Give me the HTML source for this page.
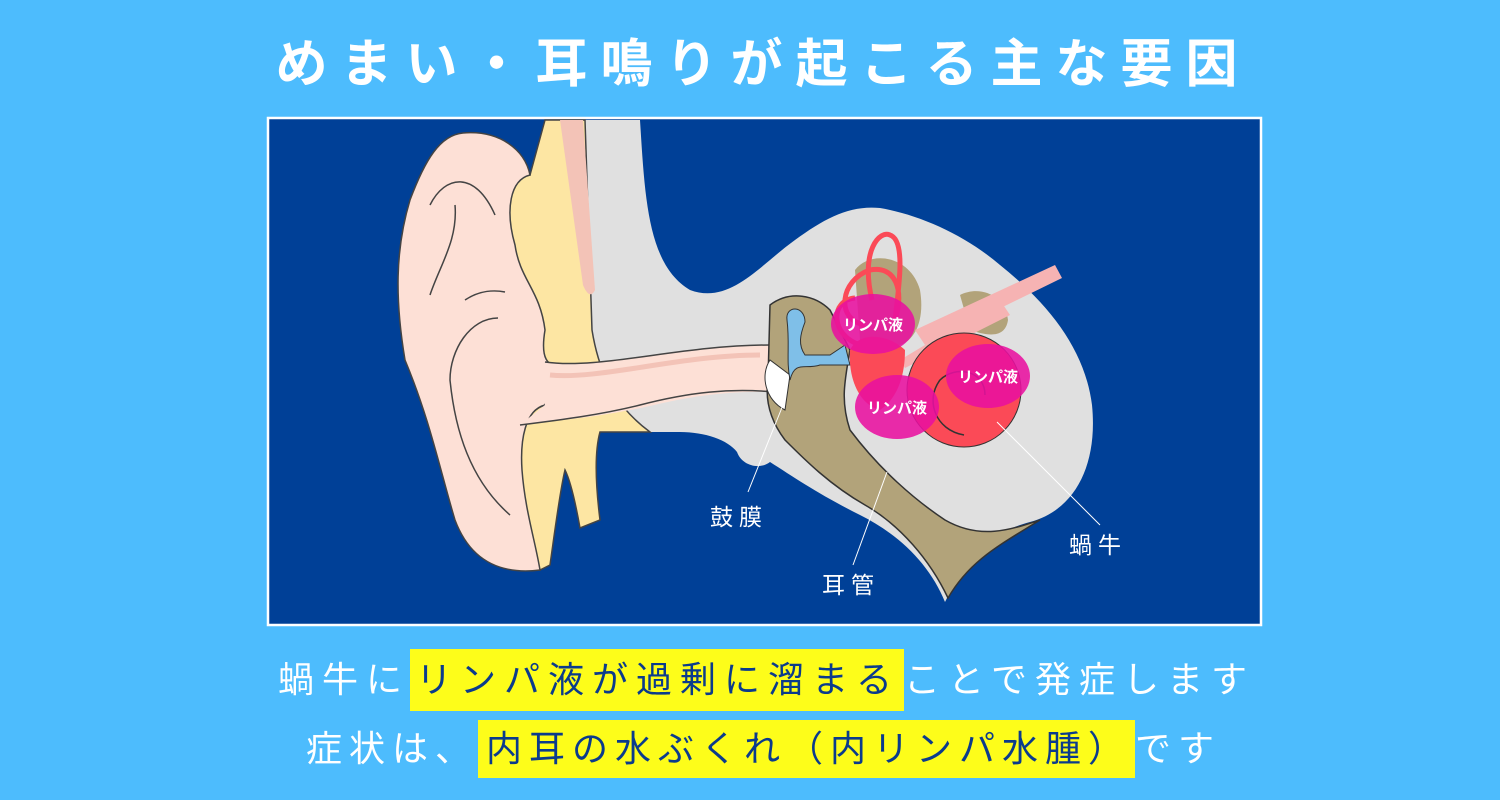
<!DOCTYPE html>
<html><head><meta charset="utf-8"><style>
body{margin:0;width:1500px;height:800px;background:#4dbcfd;overflow:hidden;position:relative;font-family:"Liberation Sans","Noto Sans CJK JP",sans-serif}
.t{position:absolute;left:0;width:1500px;text-align:center;color:#fff;font-weight:bold}
.l{position:absolute;white-space:nowrap;font-size:36px;color:#fff;letter-spacing:8px}
.y{background:#fdfd1a;color:#0b3b8c}
</style></head><body>
<div class="t" style="top:30px;font-size:52px;letter-spacing:13px;line-height:70px;padding-left:13px">めまい・耳鳴りが起こる主な要因</div>
<svg style="position:absolute;left:0;top:0" width="1500" height="800">
<rect x="268" y="118" width="993" height="507" fill="#004097" stroke="#fff" stroke-width="2.5"/>
<path d="M585,120 L640,120 C645,200 648,265 690,290 C730,305 760,265 795,240 C825,218 850,205 880,208 C920,215 965,235 1000,265 C1050,305 1085,350 1092,405 C1098,465 1075,510 1030,522 C1000,530 978,545 962,568 L945,602 C930,565 900,535 860,515 C820,495 795,478 770,462 C760,470 742,466 737,452 C728,440 705,432 680,432 L650,432 C620,410 600,380 592,330 Z" fill="#e0e0e0"/>
<path d="M545,120 L585,120 L592,330 C600,380 620,410 650,432 L600,432 C595,450 595,480 600,520 L580,528 C575,500 570,480 565,470 C560,490 555,530 550,565 L540,570 C525,540 520,480 520,450 C525,420 530,410 545,405 L545,360 C520,330 500,300 510,240 C505,200 510,175 530,175 Z" fill="#fde6a3" stroke="#444" stroke-width="1.5"/>
<path d="M560,120 L583,120 L595,290 C590,300 585,290 583,285 Z" fill="#f3c3b7"/>
<path d="M463,133 C500,130 525,150 530,175 C510,180 505,210 515,245 C520,280 540,290 545,330 C540,360 548,365 560,368 L545,405 C525,410 520,440 522,470 C525,510 535,540 540,570 C500,575 470,560 455,520 C440,470 430,420 405,360 C395,300 395,250 410,200 C425,160 440,135 463,133 Z" fill="#fde0d6" stroke="#444" stroke-width="1.5"/>
<path d="M430,205 C445,175 475,170 495,215 M455,205 C458,240 440,265 430,295 M465,300 C480,290 495,290 505,292 M498,318 C470,318 450,350 450,380 C455,430 470,480 510,515" fill="none" stroke="#444" stroke-width="1.5"/>
<path d="M545,362 C600,370 680,345 770,345 L775,392 C700,390 660,405 630,410 C590,418 560,420 520,425 L545,405 Z" fill="#fde0d6"/>
<path d="M545,362 C600,370 680,345 770,345 M520,425 C560,420 600,415 640,405 C690,392 730,388 775,392" fill="none" stroke="#444" stroke-width="1.5"/>
<path d="M550,375 C600,380 680,355 760,355" fill="none" stroke="#f3c3b7" stroke-width="5"/>
<path d="M770,305 C790,290 815,295 830,310 L850,350 C845,380 840,400 850,430 C880,470 915,500 945,520 C980,540 1010,530 1040,520 C1000,545 970,560 948,598 C930,560 900,525 865,505 C830,485 805,460 785,440 C770,420 765,400 768,380 Z" fill="#b2a37a" stroke="#333" stroke-width="1.5"/>
<path d="M855,270 C870,250 910,255 920,290 C925,320 915,340 900,345 L860,340 Z" fill="#b2a37a"/>
<path d="M960,295 C980,285 1005,295 1008,320 C1005,340 985,335 970,330 Z" fill="#b2a37a"/>
<path d="M770,360 C760,375 765,400 785,410 L790,375 Z" fill="#fff" stroke="#333" stroke-width="1"/>
<path d="M787,320 C785,305 805,305 805,322 C800,335 798,345 805,355 L830,355 L845,345 L850,365 L820,365 C805,370 795,360 790,380 C786,360 790,345 787,320 Z" fill="#7fbfe8" stroke="#333" stroke-width="1"/>
<path d="M915,330 L1055,265 L1062,278 L925,345 Z" fill="#f6b3b3"/>
<path d="M900,360 L1000,300 L1010,315 L905,368 Z" fill="#f6b3b3"/>
<circle cx="964" cy="390" r="57" fill="#fb4a57" stroke="#333" stroke-width="1"/>
<path d="M964,435 C935,430 925,400 940,380 C955,365 985,370 985,395" fill="none" stroke="#333" stroke-width="1.5"/>
<path d="M850,350 C860,330 890,335 905,350 C905,380 895,400 880,410 C860,405 848,380 850,350 Z" fill="#fb4a57"/>
<path d="M872,300 C860,250 880,230 890,235 C905,240 900,280 895,320 M865,325 C835,320 840,280 870,270 C895,265 905,290 895,320 M860,345 C830,335 830,300 855,298" fill="none" stroke="#fb4a57" stroke-width="5"/>
<g fill="#e8109f" fill-opacity="0.88">
<ellipse cx="873" cy="324" rx="42" ry="30"/>
<ellipse cx="988" cy="376" rx="42" ry="32"/>
<ellipse cx="897" cy="407" rx="42" ry="32"/>
</g>
<g fill="#fff" font-size="15" font-weight="bold" text-anchor="middle" font-family="Liberation Sans,Noto Sans CJK JP,sans-serif">
<text x="873" y="330">リンパ液</text>
<text x="988" y="382">リンパ液</text>
<text x="897" y="413">リンパ液</text>
</g>
<g stroke="#fff" stroke-width="1">
<line x1="748" y1="492" x2="783" y2="405"/>
<line x1="853" y1="565" x2="887" y2="472"/>
<line x1="1100" y1="525" x2="997" y2="422"/>
</g>
<g fill="#fff" font-size="23" letter-spacing="6" font-family="Liberation Sans,Noto Sans CJK JP,sans-serif">
<text x="710" y="525">鼓膜</text>
<text x="822" y="593">耳管</text>
<text x="1069" y="553">蝸牛</text>
</g>
</svg>
<div class="l" style="left:278px;top:657px;line-height:46px">蝸牛に<span class="y" style="display:inline-block;padding:8px 4px 8px 6px;margin:-8px 0">リンパ液が過剰に溜まる</span>ことで発症します</div>
<div class="l" style="left:306px;top:726px;line-height:46px;letter-spacing:7px">症状は、<span class="y" style="display:inline-block;padding:6px 4px 6px 8px;margin:-6px 0">内耳の水ぶくれ（内リンパ水腫）</span>です</div>
</body></html>
